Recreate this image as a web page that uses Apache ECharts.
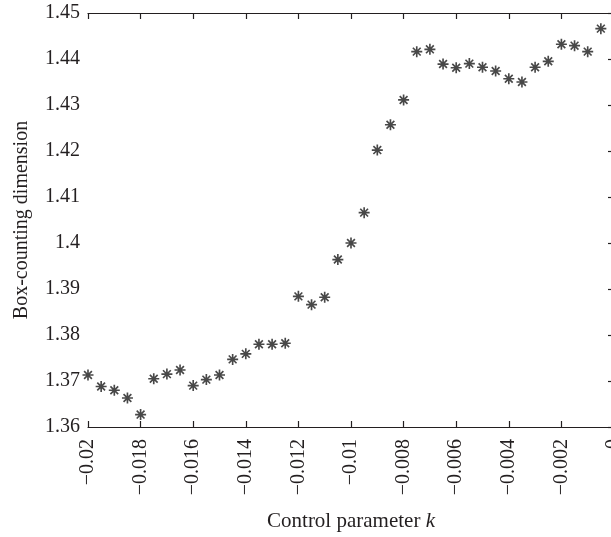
<!DOCTYPE html>
<html>
<head>
<meta charset="utf-8">
<script src="https://cdn.jsdelivr.net/npm/echarts@6/dist/echarts.min.js"></script>
<style>
html,body{margin:0;padding:0;background:#fff;overflow:hidden;}
#chart{width:611px;height:537px;}
</style>
</head>
<body>
<div id="chart"></div>
<script>
// Control parameter k values
const kValues = [
  -0.0200, -0.0195, -0.0190, -0.0185, -0.0180, -0.0175, -0.0170, -0.0165,
  -0.0160, -0.0155, -0.0150, -0.0145, -0.0140, -0.0135, -0.0130, -0.0125,
  -0.0120, -0.0115, -0.0110, -0.0105, -0.0100, -0.0095, -0.0090, -0.0085,
  -0.0080, -0.0075, -0.0070, -0.0065, -0.0060, -0.0055, -0.0050, -0.0045,
  -0.0040, -0.0035, -0.0030, -0.0025, -0.0020, -0.0015, -0.0010, -0.0005
];
// Box-counting dimension values
const dimValues = [
  1.3713, 1.3688, 1.3680, 1.3663, 1.3627, 1.3705, 1.3715, 1.3724,
  1.3690, 1.3703, 1.3713, 1.3747, 1.3759, 1.3780, 1.3780, 1.3782,
  1.3884, 1.3866, 1.3882, 1.3964, 1.4000, 1.4066, 1.4202, 1.4257,
  1.4311, 1.4416, 1.4421, 1.4389, 1.4381, 1.4390, 1.4382, 1.4374,
  1.4357, 1.4350, 1.4382, 1.4395, 1.4432, 1.4429, 1.4416, 1.4466
];
const xTitle = 'Control parameter ';
const xTitleVar = 'k';
const yTitle = 'Box-counting dimension';

const FONT = '"Liberation Serif", "DejaVu Serif", serif';
const INK = '#231f20';

const asterisk = 'path://' +
  'M-1.5,-10 L1.5,-10 L1.5,10 L-1.5,10 Z ' +
  'M10,-1.5 L10,1.5 L-10,1.5 L-10,-1.5 Z ' +
  'M6.01,-8.13 L8.13,-6.01 L-6.01,8.13 L-8.13,6.01 Z ' +
  'M-8.13,-6.01 L-6.01,-8.13 L8.13,6.01 L6.01,8.13 Z';

function fmtX(v) {
  const r = Math.round(v * 10000) / 10000;
  if (r === 0) return '0';
  return (r < 0 ? '\u2212' : '') + String(Math.abs(r));
}

const chart = echarts.init(document.getElementById('chart'), null, {renderer: 'canvas'});
const axisCommon = {
  axisLine: {show: true, lineStyle: {color: INK, width: 1.2}},
  axisTick: {show: true, inside: true, length: 6, lineStyle: {color: INK, width: 1.2}},
  splitLine: {show: false}
};
chart.setOption({
  animation: false,
  backgroundColor: '#fff',
  grid: {left: 88, width: 526, top: 13, bottom: 110, containLabel: false, outerBoundsMode: 'none'},
  xAxis: [
    Object.assign({
      type: 'value', min: -0.02, max: 0, interval: 0.002, position: 'bottom',
      axisLabel: {rotate: 90, fontFamily: FONT, fontSize: 20, color: INK, margin: 12, formatter: fmtX},
      name: '{n|' + xTitle + '}{v|' + xTitleVar + '}',
      nameLocation: 'middle', nameGap: 84,
      nameTextStyle: {rich: {
        n: {fontFamily: FONT, fontSize: 21, color: INK},
        v: {fontFamily: FONT, fontSize: 21, color: INK, fontStyle: 'italic'}
      }}
    }, axisCommon),
    Object.assign({
      type: 'value', min: -0.02, max: 0, interval: 0.002, position: 'top',
      axisLabel: {show: false}
    }, axisCommon)
  ],
  yAxis: [
    Object.assign({
      type: 'value', min: 1.36, max: 1.45, interval: 0.01, position: 'left',
      axisLabel: {fontFamily: FONT, fontSize: 20, color: INK, margin: 8},
      name: yTitle, nameLocation: 'middle', nameGap: 56,
      nameTextStyle: {fontFamily: FONT, fontSize: 20, color: INK}
    }, axisCommon),
    Object.assign({
      type: 'value', min: 1.36, max: 1.45, interval: 0.01, position: 'right',
      axisLabel: {show: false}
    }, axisCommon)
  ],
  series: [{
    type: 'scatter',
    data: kValues.map((k, i) => [k, dimValues[i]]),
    symbol: asterisk,
    symbolSize: 11,
    itemStyle: {color: '#1a1a1a'},
    clip: false
  }]
});
</script>
</body>
</html>
